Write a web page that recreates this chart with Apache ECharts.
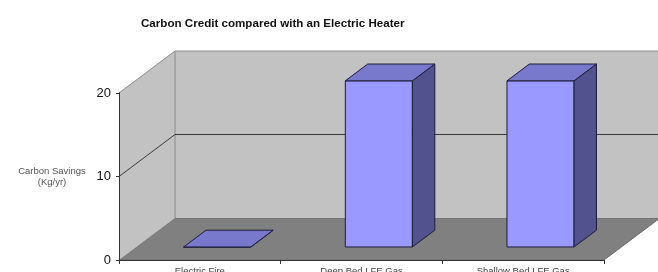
<!DOCTYPE html>
<html>
<head>
<meta charset="utf-8">
<script src="https://cdn.jsdelivr.net/npm/echarts@6/dist/echarts.min.js"></script>
<style>
	html, body { margin: 0; padding: 0; background: #fff; }
	#chart { width: 658px; height: 272px; }
</style>
</head>
<body>
<div id="chart"></div>
<script>
// data
var categories = ['Electric Fire', 'Deep Bed LFE Gas', 'Shallow Bed LFE Gas'];
var savings = [0, 19.9, 19.9];
var yTicks = [0, 10, 20];

// oblique depth of the 3d box (pixels), and where the bars sit inside it
var DX = 56, DY = -42;
var F0 = 0.31, F1 = 0.71;

var chart = echarts.init(document.getElementById('chart'));

function renderWalls(params, api) {
	var band = api.size([1, 0])[0];
	var n = categories.length;
	var x0 = api.coord([0, 0])[0] - band / 2;
	var x1 = api.coord([n - 1, 0])[0] + band / 2;
	var yB = api.coord([0, yTicks[0]])[1];
	var yT = api.coord([0, yTicks[yTicks.length - 1]])[1];
	var kids = [
		{ type: 'polygon', shape: { points: [[x0, yB], [x1, yB], [x1 + DX, yB + DY], [x0 + DX, yB + DY]] },
		  style: { fill: '#808080', stroke: '#6a6a6a', lineWidth: 1 } },
		{ type: 'polygon', shape: { points: [[x0, yB], [x0, yT], [x0 + DX, yT + DY], [x0 + DX, yB + DY]] },
		  style: { fill: '#c2c2c2', stroke: null } },
		{ type: 'polygon', shape: { points: [[x0 + DX, yT + DY], [x1 + DX, yT + DY], [x1 + DX, yB + DY], [x0 + DX, yB + DY]] },
		  style: { fill: '#c2c2c2', stroke: null } },
		{ type: 'line', shape: { x1: x0 + DX, y1: yT + DY, x2: x0 + DX, y2: yB + DY },
		  style: { stroke: '#8a8a8a', lineWidth: 1 } }
	];
	yTicks.forEach(function (t) {
		if (t === yTicks[0]) return;
		var y = api.coord([0, t])[1];
		kids.push({ type: 'polyline', shape: { points: [[x0, y], [x0 + DX, y + DY], [x1 + DX, y + DY]] },
			style: { stroke: t === yTicks[yTicks.length - 1] ? '#8c8c8c' : '#3a3a3a', lineWidth: 1, fill: null } });
	});
	return { type: 'group', children: kids };
}

function renderBar(params, api) {
	var i = api.value(0), v = api.value(1);
	var band = api.size([1, 0])[0];
	var w = band * 0.415;
	var top = api.coord([i, v]);
	var base = api.coord([i, 0]);
	var dx = DX * (F1 - F0), dy = DY * (F1 - F0);
	var L = top[0] - w / 2 + DX * F0, R = L + w;
	var T = top[1] + DY * F0, B = base[1] + DY * F0;
	var edge = { stroke: '#1c1c3a', lineWidth: 1, lineJoin: 'round' };
	return {
		type: 'group',
		children: [
			{ type: 'polygon', shape: { points: [[L, T], [R, T], [R, B], [L, B]] },
			  style: Object.assign({ fill: '#9999ff' }, edge) },
			{ type: 'polygon', shape: { points: [[R, T], [R + dx, T + dy], [R + dx, B + dy], [R, B]] },
			  style: Object.assign({ fill: '#52528f' }, edge) },
			{ type: 'polygon', shape: { points: [[L, T], [R, T], [R + dx, T + dy], [L + dx, T + dy]] },
			  style: Object.assign({ fill: '#7878cc' }, edge) }
		]
	};
}

var option = {
	animation: false,
	backgroundColor: '#ffffff',
	title: {
		text: 'Carbon Credit compared with an Electric Heater',
		left: 136,
		top: 13,
		textStyle: { fontFamily: 'Liberation Sans', fontSize: 11.6, fontWeight: 'bold', color: '#111' }
	},
	grid: { left: 119, right: 54, top: 93, bottom: 12, outerBoundsMode: 'none' },
	xAxis: {
		type: 'category',
		data: categories,
		z: 10,
		axisLine: { show: true, lineStyle: { color: '#333', width: 1 } },
		axisTick: { show: true, length: 4, lineStyle: { color: '#333' } },
		axisLabel: { fontFamily: 'Liberation Sans', fontSize: 9.5, color: '#444', margin: 6, interval: 0 },
		splitLine: { show: false }
	},
	yAxis: {
		type: 'value',
		min: yTicks[0],
		max: yTicks[yTicks.length - 1],
		interval: yTicks[1] - yTicks[0],
		z: 10,
		name: 'Carbon Savings\n(Kg/yr)',
		nameLocation: 'middle',
		nameRotate: 0,
		nameGap: 67,
		nameTextStyle: { fontFamily: 'Liberation Sans', fontSize: 9.5, color: '#555', align: 'center', lineHeight: 11 },
		axisLine: { show: true, lineStyle: { color: '#333', width: 1 } },
		axisTick: { show: true, length: 3, lineStyle: { color: '#333' } },
		axisLabel: { fontFamily: 'Liberation Sans', fontSize: 13, color: '#111', margin: 8 },
		splitLine: { show: false }
	},
	series: [
		{
			type: 'custom',
			name: 'walls',
			z: 1,
			clip: false,
			silent: true,
			renderItem: renderWalls,
			data: [[0, 0]]
		},
		{
			type: 'custom',
			name: 'Carbon Savings',
			z: 2,
			clip: false,
			renderItem: renderBar,
			encode: { x: 0, y: 1 },
			data: savings.map(function (v, i) { return [i, v]; })
		}
	]
};

chart.setOption(option);
</script>
</body>
</html>
